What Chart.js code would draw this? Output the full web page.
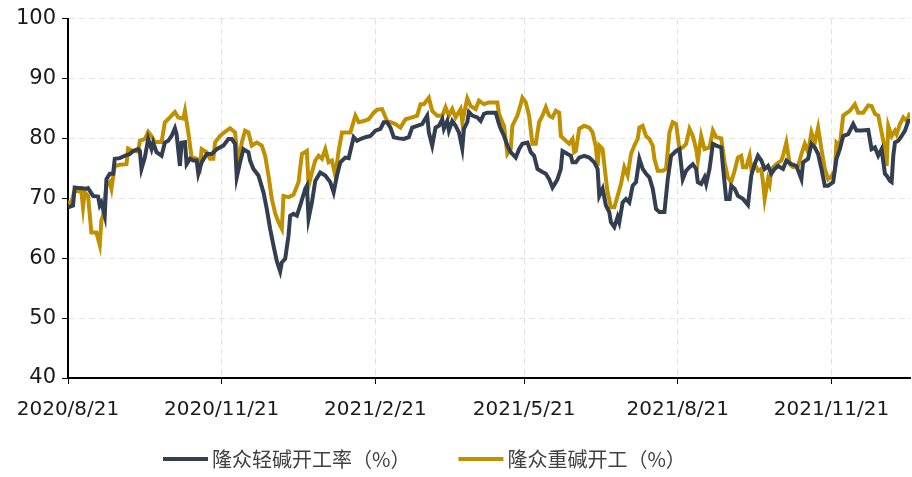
<!DOCTYPE html>
<html>
<head>
<meta charset="utf-8">
<script src="https://cdn.jsdelivr.net/npm/chart.js@4.4.0/dist/chart.umd.min.js"></script>
<style>
  html, body { margin: 0; padding: 0; background: #fff; }
</style>
</head>
<body>
<canvas id="myChart" width="912" height="477"></canvas>
<script>
// x = days since 2020/8/21
var tickDays = [0, 92, 184, 273, 365, 457];
var tickLabels = ['2020/8/21', '2020/11/21', '2021/2/21', '2021/5/21', '2021/8/21', '2021/11/21'];

var seriesNames = ['隆众轻碱开工率（%）', '隆众重碱开工（%）'];

var lightDays = [0,3,4,7,11,12,15,18,19,20,22,23,25,27,28,31,34,37,39,42,43,44,46,48,50,51,53,56,58,60,62,64,65,67,68,70,71,73,75,77,78,80,83,86,89,93,96,98,100,101,103,105,108,109,111,114,117,119,121,123,125,127,128,130,132,133,135,137,139,142,143,144,146,148,151,154,157,159,161,163,166,168,171,173,175,178,181,184,187,189,191,193,195,198,201,204,206,209,212,215,216,218,220,222,224,225,227,228,230,232,234,236,237,239,240,242,245,247,249,251,256,258,259,261,263,265,268,270,272,275,277,279,281,284,286,288,290,292,293,295,296,299,301,302,304,306,309,312,315,317,318,320,322,324,325,327,329,330,332,334,336,338,340,342,344,346,348,350,352,354,357,359,361,364,366,368,370,372,374,376,377,379,381,382,384,386,388,391,392,394,396,397,399,401,404,407,409,411,413,415,417,419,421,423,425,428,430,433,436,439,440,443,445,447,449,451,453,455,458,460,462,464,467,470,472,475,479,481,483,485,487,489,490,492,493,494,495,497,499,501,503,505];
var lightVals = [68.5,68.8,71.8,71.7,71.6,71.7,70.4,70.3,68.8,69.3,67.1,73.2,74.1,74.1,76.6,76.7,77.1,77.4,77.9,78.2,77.9,74.9,76.8,79.9,78.2,79.3,77.7,77.1,79.3,79.6,80.4,81.7,80.7,75.4,79.3,79.4,75.7,76.6,76.3,76.3,74.1,76.0,77.4,77.4,78.2,78.8,79.9,79.9,79.1,73.5,76.0,78.2,77.7,76.3,74.9,73.8,71.0,68.2,64.9,62.1,59.5,57.8,59.3,59.9,63.8,67.1,67.4,67.1,68.8,71.6,72.1,66.6,69.3,72.9,74.3,73.8,72.7,71.0,73.8,76.0,76.8,76.7,80.2,79.6,79.9,80.2,80.4,81.3,81.6,82.7,82.7,81.8,80.2,80.0,79.9,80.2,81.8,82.1,82.4,83.8,81.0,78.8,81.8,82.1,83.2,81.6,82.9,81.3,82.9,82.1,81.0,78.3,81.6,82.7,84.4,83.8,83.5,82.9,84.1,84.3,84.3,82.4,81.6,80.4,78.8,77.7,76.8,78.2,79.1,79.3,77.7,77.1,74.9,74.4,74.1,73.2,71.8,72.7,73.2,74.9,77.9,77.4,77.1,76.0,76.0,76.8,77.1,76.8,76.0,74.9,70.4,71.6,68.8,67.7,66.0,65.2,66.9,66.0,69.3,69.9,69.3,72.1,72.7,76.6,74.9,74.1,73.5,71.6,68.2,67.7,67.7,73.2,77.1,77.9,78.2,73.2,74.6,75.2,75.7,74.9,72.7,72.4,73.5,72.4,74.9,79.1,78.8,78.5,75.4,69.9,69.9,72.1,71.6,70.4,69.9,68.9,73.8,75.7,77.1,76.3,74.9,75.4,74.1,74.9,75.4,74.9,76.3,75.7,75.4,73.2,76.0,76.6,79.1,78.5,77.4,74.9,72.1,72.1,72.7,76.6,78.2,80.4,80.7,82.4,81.3,81.3,81.4,78.2,78.5,77.1,78.2,74.1,73.8,72.9,72.7,77.1,79.3,79.6,80.4,81.3,82.9,82.9];

var heavyDays = [0,2,4,8,9,10,12,14,17,19,20,21,23,25,26,28,31,35,36,39,42,43,46,48,50,52,56,58,61,64,66,69,70,72,74,77,79,80,83,85,87,88,91,94,97,100,102,104,106,108,110,113,116,118,120,122,124,126,128,129,132,135,138,140,143,144,146,148,150,152,154,156,158,160,162,164,167,169,172,174,177,180,183,185,188,191,193,196,199,202,206,209,211,213,216,218,221,224,226,228,230,232,235,236,239,241,244,246,249,252,257,258,260,261,263,265,266,269,271,272,274,276,278,280,282,284,286,288,290,292,294,295,298,300,302,303,304,306,309,312,314,316,317,318,320,322,323,325,327,329,331,333,335,337,339,341,342,344,346,348,350,351,353,356,358,360,362,364,366,368,370,372,374,376,377,379,381,384,386,388,391,393,395,397,399,401,403,404,406,408,409,411,413,415,416,417,419,420,421,424,427,428,430,432,434,437,439,441,443,445,447,449,451,453,455,457,459,460,462,464,466,468,471,473,476,479,481,483,485,487,489,490,491,493,495,496,498,500,502,504,505];
var heavyVals = [69.3,69.3,71.3,71.1,68.5,71.0,70.4,64.3,64.3,62.2,66.3,67.1,72.1,72.7,71.6,75.4,75.6,75.7,78.3,77.9,77.8,79.6,79.9,81.1,80.4,79.4,79.4,82.7,83.5,84.4,83.5,83.3,84.6,81.0,76.8,76.6,75.2,78.2,77.7,76.6,76.6,79.3,80.4,81.1,81.7,81.0,75.7,79.3,81.3,81.0,78.8,79.3,78.8,77.1,73.8,69.9,67.5,66.0,64.9,70.4,70.2,70.6,72.7,77.4,77.9,72.1,74.3,76.3,77.1,76.6,78.2,76.0,76.3,73.8,77.9,81.0,81.0,81.0,83.8,82.7,82.9,83.2,84.3,84.8,84.9,82.9,82.7,82.4,81.8,83.2,83.5,83.8,85.7,85.7,86.8,84.6,83.8,83.8,85.2,83.8,84.9,83.5,84.9,82.7,86.7,85.4,84.9,86.3,85.7,86.0,86.0,84.1,82.7,82.1,77.4,78.2,82.1,83.8,85.7,86.8,86.0,83.8,79.1,79.1,82.7,83.8,85.2,83.8,83.5,84.6,84.3,80.4,79.6,79.1,79.9,77.7,77.9,81.6,82.1,81.8,81.0,78.5,75.4,78.8,78.2,73.2,71.0,68.5,68.5,70.4,72.4,75.2,73.8,77.4,78.8,79.9,81.8,82.1,80.4,79.9,78.8,76.6,74.6,74.6,74.9,81.0,82.7,82.4,78.2,78.5,79.1,81.6,80.4,78.2,76.3,80.4,78.2,78.5,81.3,80.2,80.0,76.0,73.5,72.7,74.6,76.8,77.1,75.2,75.2,77.1,74.9,75.7,74.6,74.9,72.7,69.9,73.2,72.4,74.9,75.7,76.3,77.1,79.3,75.7,75.2,75.4,77.4,79.1,77.7,81.0,79.3,81.8,78.2,74.9,73.2,73.7,74.6,79.3,78.8,83.8,84.2,84.6,85.7,84.3,84.3,85.5,85.4,84.1,83.8,81.0,78.2,75.4,82.1,80.4,81.3,80.7,82.4,83.5,82.9,84.3,85.2];

function toPoints(days, vals) {
  return days.map(function(d, i) { return { x: d, y: vals[i] }; });
}

var legendPlugin = {
  id: 'bottomLegend',
  afterDraw: function(chart) {
    var ctx = chart.ctx;
    var x = 163, y = 459;
    ctx.save();
    ctx.font = '20px "Noto Sans CJK SC"';
    ctx.textBaseline = 'middle';
    chart.data.datasets.forEach(function(ds) {
      ctx.strokeStyle = ds.borderColor;
      ctx.lineWidth = 4;
      ctx.beginPath();
      ctx.moveTo(x, y);
      ctx.lineTo(x + 45, y);
      ctx.stroke();
      ctx.fillStyle = '#404040';
      ctx.fillText(ds.label, x + 49, y);
      x += 49 + ctx.measureText(ds.label).width + 48;
    });
    ctx.restore();
  }
};

var ctx = document.getElementById('myChart').getContext('2d');
var myChart = new Chart(ctx, {
  type: 'line',
  data: {
    datasets: [{
      label: seriesNames[0],
      data: toPoints(lightDays, lightVals),
      borderColor: '#333f50',
      backgroundColor: '#333f50',
      borderWidth: 4,
      pointRadius: 0,
      tension: 0
    }, {
      label: seriesNames[1],
      data: toPoints(heavyDays, heavyVals),
      borderColor: '#bf9000',
      backgroundColor: '#bf9000',
      borderWidth: 4,
      pointRadius: 0,
      tension: 0
    }]
  },
  options: {
    responsive: false,
    animation: false,
    layout: { padding: { top: 16, right: 2, bottom: 0, left: 0 } },
    plugins: {
      legend: { display: false },
      tooltip: { enabled: false }
    },
    scales: {
      x: {
        type: 'linear',
        min: 0,
        max: 504,
        afterBuildTicks: function(scale) {
          scale.ticks = tickDays.map(function(d) { return { value: d }; });
        },
        afterFit: function(scale) { scale.height = 99; },
        ticks: {
          autoSkip: false,
          maxRotation: 0,
          padding: 14,
          color: '#1a1a1a',
          font: { family: 'DejaVu Sans', size: 20 },
          callback: function(value) {
            var i = tickDays.indexOf(value);
            return i >= 0 ? tickLabels[i] : '';
          }
        },
        grid: {
          color: '#d5e3f3',
          tickColor: '#000',
          tickLength: 6,
          lineWidth: 1
        },
        border: { color: '#000', width: 2, dash: [6, 4] }
      },
      y: {
        min: 40,
        max: 100,
        afterFit: function(scale) { scale.width = 68; },
        ticks: {
          stepSize: 10,
          padding: 6,
          color: '#1a1a1a',
          font: { family: 'DejaVu Sans', size: 21 }
        },
        grid: {
          color: '#e3e3e3',
          tickColor: '#000',
          tickLength: 6,
          lineWidth: 1
        },
        border: { color: '#000', width: 2, dash: [6, 4] }
      }
    }
  },
  plugins: [legendPlugin]
});
</script>
</body>
</html>
